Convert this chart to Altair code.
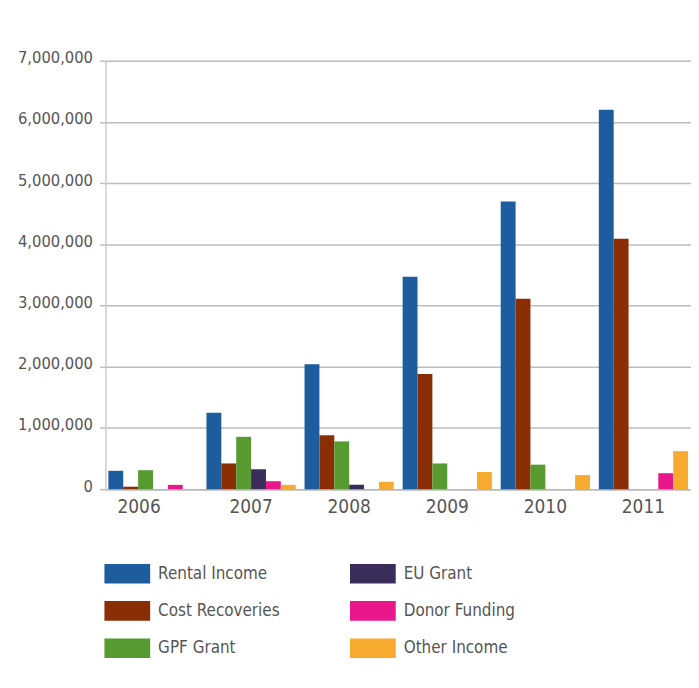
import altair as alt
import pandas as pd

years = ["2006", "2007", "2008", "2009", "2010", "2011"]
series = ["Rental Income", "Cost Recoveries", "GPF Grant", "EU Grant", "Donor Funding", "Other Income"]
rental_income = [300000, 1250000, 2040000, 3470000, 4700000, 6200000]
cost_recoveries = [40000, 420000, 880000, 1880000, 3110000, 4090000]
gpf_grant = [310000, 855000, 780000, 420000, 400000, 0]
eu_grant = [0, 325000, 70000, 0, 0, 0]
donor_funding = [70000, 130000, 0, 0, 0, 260000]
other_income = [0, 70000, 120000, 280000, 230000, 620000]
colors = ["#1d5d9e", "#8a2f05", "#579a30", "#3a2d5c", "#e8178c", "#f7ab2e"]
y_ticks = [0, 1000000, 2000000, 3000000, 4000000, 5000000, 6000000, 7000000]

values = [rental_income, cost_recoveries, gpf_grant, eu_grant, donor_funding, other_income]
rows = []
for s, vals in zip(series, values):
    for y, v in zip(years, vals):
        rows.append({"year": y, "series": s, "value": v})
df = pd.DataFrame(rows)

FONT = "Liberation Sans Narrow, DejaVu Sans Condensed, Roboto Condensed, Open Sans, sans-serif"

chart = alt.Chart(df).mark_bar().encode(
    x=alt.X("year:N", sort=years, title=None,
            scale=alt.Scale(paddingInner=0.09, paddingOuter=0.03),
            axis=alt.Axis(labelAngle=0, ticks=False, domainColor="#b8b8b8", domainWidth=1.5,
                          labelFontSize=19, labelPadding=8, labelColor="#555555", labelFont=FONT,
                          labelOffset=alt.condition("datum.value == '2006'", alt.value(-14), alt.value(0)))),
    xOffset=alt.XOffset("series:N", sort=series, scale=alt.Scale(paddingInner=0, paddingOuter=0)),
    y=alt.Y("value:Q", title=None,
            scale=alt.Scale(domain=[0, 7000000], nice=False),
            axis=alt.Axis(values=y_ticks, format=",d", grid=True, gridColor="#bdbdbd", gridWidth=1.5,
                          tickColor="#bdbdbd", tickSize=6, tickWidth=1.5,
                          domainColor="#cccccc", domainWidth=1.2,
                          labelFontSize=16.5, labelPadding=7, labelColor="#555555", labelFont=FONT,
                          labelBaseline="alphabetic", labelOffset=2)),
    color=alt.Color("series:N", scale=alt.Scale(domain=series, range=colors),
                    legend=alt.Legend(title=None, orient="none", legendX=-1, legendY=493,
                                      columns=2, columnPadding=70, rowPadding=4.5,
                                      symbolType="M-1,-0.43H1V0.43H-1Z", symbolSize=2116,
                                      symbolStrokeWidth=0, labelOffset=8,
                                      labelFontSize=17, labelColor="#555555", labelFont=FONT,
                                      padding=0)),
).properties(
    width=589, height=431,
    autosize=alt.AutoSizeParams(type="none"),
    padding={"left": 98, "top": 51, "right": 0, "bottom": 190},
).configure_view(stroke=None).configure(background="white")

chart.save("out.html", embed_options={"renderer": "svg", "actions": False})
